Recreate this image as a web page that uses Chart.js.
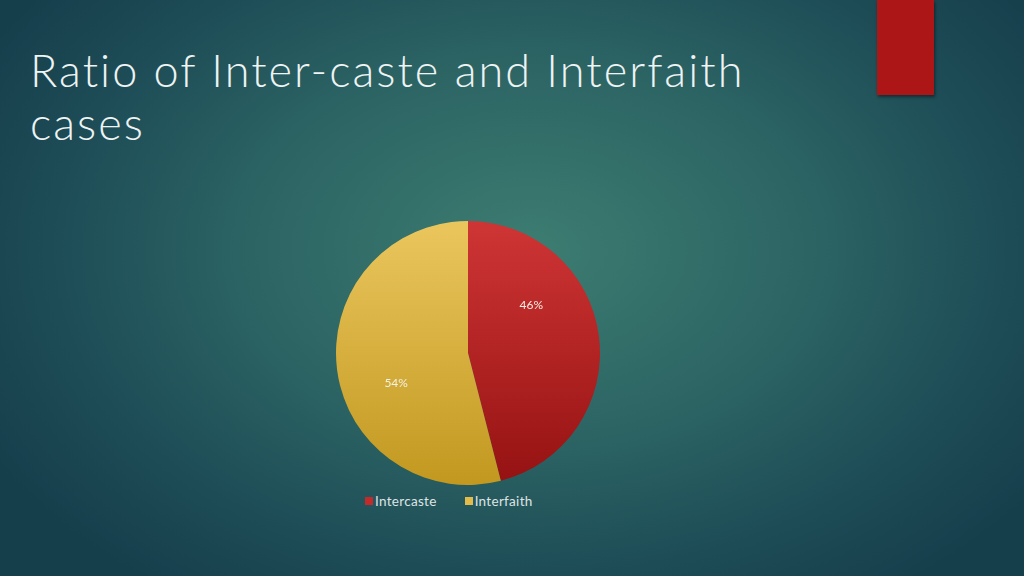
<!DOCTYPE html>
<html>
<head>
<meta charset="utf-8">
<script src="https://cdn.jsdelivr.net/npm/chart.js@4/dist/chart.umd.min.js"></script>
<style>
  html, body { margin:0; padding:0; width:1024px; height:576px; overflow:hidden; }
  body {
    background: radial-gradient(ellipse 620px 420px at 530px 250px, #3d7d71 0%, #2c6464 45%, #1c4a55 80%, #163f4c 100%);
    position: relative;
    font-family: "Lato", "Open Sans", sans-serif;
  }
  #title {
    position:absolute; left:30px; top:44px; margin:0;
    font-family: "Lato", sans-serif; font-weight:300;
    font-size:45px; line-height:53px; color:#eef3f3;
    letter-spacing:2.05px;
  }
  #bar {
    position:absolute; left:877px; top:0; width:57px; height:95px;
    background:#ac1616; box-shadow: 1px 2px 3px rgba(0,0,0,0.45);
  }
  #wrap { position:absolute; left:336px; top:221px; width:264px; height:264px; }
  #legend {
    position:absolute; left:365px; top:493px; display:flex; align-items:center;
    font-family:"Lato", sans-serif; font-size:13.5px; color:#dfe4e4; white-space:nowrap;
    letter-spacing:0.3px;
  }
  #legend .item { display:flex; align-items:center; margin-right:28px; }
  #legend .sw { width:8px; height:8px; margin-right:2px; }
</style>
</head>
<body>
<div id="bar"></div>
<h1 id="title">Ratio of Inter-caste and Interfaith<br>cases</h1>
<div id="wrap"><canvas id="c"></canvas></div>
<div id="legend"></div>
<script>
const categories = ["Intercaste", "Interfaith"];
const shares = [46, 54];
const pctLabels = ["46%", "54%"];

const topColors = ["#cf3535", "#eac65e"];
const bottomColors = ["#951212", "#c2981f"];
const legendColors = ["#c42a2a", "#e2bb4a"];

function sliceFill(ctx) {
  const chart = ctx.chart;
  const area = chart.chartArea;
  if (!area) return topColors[ctx.dataIndex];
  const g = chart.ctx.createLinearGradient(0, area.top, 0, area.bottom);
  g.addColorStop(0, topColors[ctx.dataIndex]);
  g.addColorStop(1, bottomColors[ctx.dataIndex]);
  return g;
}

// label placement within each slice: fraction of slice angle, fraction of radius
const labelAngleFrac = [0.32, 0.42];
const labelRadiusFrac = [0.6, 0.59];

const pctPlugin = {
  id: 'pct',
  afterDatasetsDraw(chart) {
    const ctx = chart.ctx;
    const meta = chart.getDatasetMeta(0);
    ctx.save();
    ctx.font = '12px "Lato", sans-serif';
    ctx.fillStyle = '#f3f0e6';
    ctx.textAlign = 'center';
    ctx.textBaseline = 'middle';
    meta.data.forEach((arc, i) => {
      const p = arc.getProps(['x','y','startAngle','endAngle','outerRadius'], true);
      const a = p.startAngle + (p.endAngle - p.startAngle) * labelAngleFrac[i];
      const r = p.outerRadius * labelRadiusFrac[i];
      ctx.fillText(pctLabels[i], p.x + Math.cos(a) * r, p.y + Math.sin(a) * r);
    });
    ctx.restore();
  }
};

new Chart(document.getElementById('c'), {
  type: 'pie',
  data: {
    labels: categories,
    datasets: [{
      data: shares,
      backgroundColor: sliceFill,
      borderWidth: 0
    }]
  },
  options: {
    responsive: true,
    maintainAspectRatio: false,
    animation: false,
    layout: { padding: 0 },
    plugins: {
      tooltip: { enabled: false },
      legend: { display: false }
    }
  },
  plugins: [pctPlugin]
});

const leg = document.getElementById('legend');
categories.forEach((c, i) => {
  const it = document.createElement('div');
  it.className = 'item';
  const sw = document.createElement('span');
  sw.className = 'sw';
  sw.style.background = legendColors[i];
  const tx = document.createElement('span');
  tx.textContent = c;
  it.appendChild(sw); it.appendChild(tx);
  leg.appendChild(it);
});
</script>
</body>
</html>
